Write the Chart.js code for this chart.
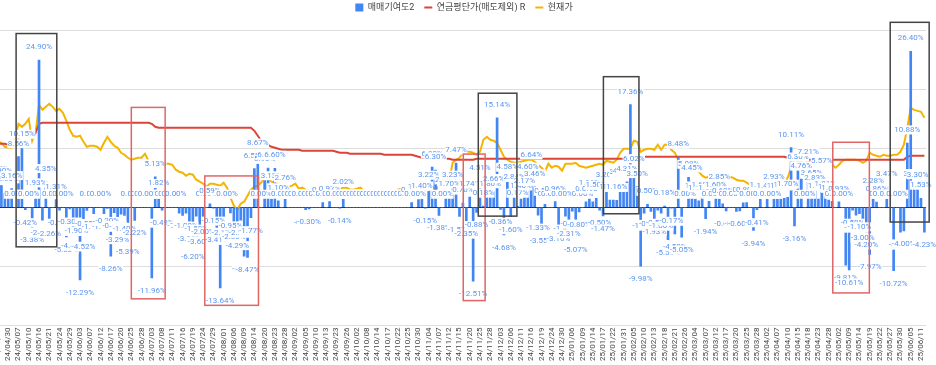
<!DOCTYPE html>
<html>
<head>
<meta charset="utf-8">
<script src="https://cdn.jsdelivr.net/npm/chart.js@4.4.1/dist/chart.umd.min.js"></script>
<style>
  html, body { margin: 0; padding: 0; background: #fff; overflow: hidden; }
  body { width: 936px; height: 365px; position: relative; }
  #wrap { position: absolute; left: -4px; top: 0; width: 940px; height: 363px; }
</style>
</head>
<body>
<div id="wrap"><canvas id="chart"></canvas></div>
<script>
// x tick labels, one every 3 trading days
const tickLabels = [
  "24/04/25","24/04/30","24/05/07","24/05/10","24/05/16","24/05/21","24/05/24","24/05/29","24/06/03","24/06/07",
  "24/06/12","24/06/17","24/06/20","24/06/25","24/06/28","24/07/03","24/07/08","24/07/11","24/07/16","24/07/19",
  "24/07/24","24/07/29","24/08/01","24/08/06","24/08/09","24/08/14","24/08/20","24/08/23","24/08/28","24/09/02",
  "24/09/05","24/09/10","24/09/13","24/09/23","24/09/26","24/10/02","24/10/08","24/10/14","24/10/17","24/10/22",
  "24/10/25","24/10/30","24/11/04","24/11/07","24/11/12","24/11/15","24/11/20","24/11/25","24/11/28","24/12/03",
  "24/12/06","24/12/11","24/12/16","24/12/19","24/12/24","24/12/30","25/01/06","25/01/09","25/01/14","25/01/17",
  "25/01/22","25/01/31","25/02/05","25/02/10","25/02/13","25/02/18","25/02/21","25/02/26","25/03/04","25/03/07",
  "25/03/12","25/03/17","25/03/20","25/03/25","25/03/28","25/04/02","25/04/07","25/04/10","25/04/15","25/04/18",
  "25/04/23","25/04/28","25/05/02","25/05/09","25/05/14","25/05/19","25/05/22","25/05/27","25/05/30","25/06/05",
  "25/06/11"
];

// 매매기여도2 (%), one value per trading day
const contribution = [
  4.34, 3.9, 2.3, 2.6, 3.16, 0, 8.56, 10.15, -0.42, 0, -3.38, 1.93, 24.9, -2.2, 4.35, -2.26, 0, 1.31,
  -0.5, 0, -5.02, -0.3, -4.4, -1.9, -12.29, -4.52, -0.55, 0, -1.1, 0, 0, -1.1, -0.2, -8.26, -0.9, -3.29,
  -1.19, -1.4, -5.39, 0, -2.22, 0, 0, 0, 0, -11.96, 5.13, 1.82, -0.49, 0, 0, 0, 0, -1.0,
  -1.38, -1.0, -3.1, -6.2, -1.5, -3.6, -2.0, 0, 0.59, -0.15, -3.41, -13.64, -2.17, 0, -0.95, -2.8, -4.29, -2.2,
  -8.3, -8.47, -1.77, 6.55, 8.67, 0, 5.9, 6.63, 3.13, 6.6, 1.1, 0, 2.76, 0, 0, 0, 0, 0,
  -0.39, -0.3, 0, 0, 0, 0.8, 0, 0.97, 0, 0, -0.14, 2.02, 0, 0, 0, 0, 0, 0,
  0, 0, 0, 0, 0, 0, 0, 0, 0, 0, 0, 0, 0, 0.79, 0, 1.3, 1.4, -0.15,
  3.22, 6.8, 6.3, -1.38, 0, 2.44, 1.7, 3.23, 7.47, -1.57, 0.7, -2.35, 1.74, -12.51, -0.88, 4.51, 0.18, 1.8,
  1.8, 2.66, 15.14, -0.36, -4.68, 4.58, -1.6, 2.84, 0.17, 1.4, 2.17, 4.6, 6.64, 3.46, -1.33, -3.55, 0.5, 0,
  0, 0.96, -3.16, 0, -1.49, -2.31, -0.65, -5.07, -0.8, 0, 0.9, 1.96, 0.9, 1.5, -0.5, -1.47, 3.2, 1.2,
  1.2, 1.16, 3.7, 4.0, 4.31, 17.36, 6.02, 3.5, -9.98, -1.0, 0.5, -0.7, -1.93, -0.5, -1.0, 0.18, -5.5, -0.17,
  -4.5, 8.48, -5.05, 0, 5.08, 4.45, 1.4, 1.1, 1.6, -1.94, 1.0, 0, 1.6, 2.85, 0.6, -0.6, 0, 0,
  -0.7, -0.6, 0.74, 0.8, 0, -3.94, -0.41, 1.5, 0, 1.4, 0, 2.93, 1.4, 1.4, 1.49, 1.7, 10.11, -3.16,
  6.3, 4.76, 0, 7.21, 3.65, 2.83, 1.4, 5.57, 1.81, 1.2, 1.0, 0, 0.93, 0, -9.81, -10.61, -0.5, -1.34,
  -1.1, -3.0, -4.2, -7.97, 2.28, 0.86, 0, 0, 3.47, 0, -10.72, 0, -4.22, -4.0, 10.88, 26.4, 3.51, 3.3,
  1.53, -4.23
];

// 연금평단가(매도제외) - right axis
const avgCost = [
  182, 182, 182, 181, 182, 182, 187, 192, 192, 192, 192, 193, 202, 203, 203, 203, 203, 203,
  203, 203, 203, 203, 203, 203, 203, 203, 203, 203, 203, 203, 203, 203, 203, 203, 203, 203,
  203, 203, 203, 203, 203, 203, 203, 203, 203, 202, 199, 198, 198, 198, 198, 198, 198, 198,
  198, 198, 198, 198, 198, 198, 198, 198, 198, 198, 198, 198, 198, 198, 198, 198, 198, 198,
  198, 198, 198, 195, 190, 185, 183, 181, 179, 178, 177, 176, 176, 176, 176, 176, 176, 175,
  175, 175, 175, 175, 175, 175, 175, 175, 175, 174, 173, 173, 173, 172, 172, 172, 172, 172,
  172, 172, 172, 172, 172, 171, 171, 171, 171, 171, 171, 171, 171, 171, 170, 169, 168, 168,
  168, 168, 168, 168, 167, 167, 167, 166, 166, 166, 166, 166, 166, 166, 167, 167, 167, 167,
  167, 167, 167, 167, 167, 167, 167, 167, 167, 167, 167, 167, 167, 167, 167, 167, 167, 167,
  167, 167, 167, 167, 167, 167, 167, 167, 167, 167, 167, 167, 167, 167, 167, 167, 167, 167,
  167, 167, 167, 167, 167, 167, 169, 169, 169, 169, 169, 169, 169, 169, 169, 169, 169, 169,
  169, 169, 169, 169, 169, 169, 169, 169, 169, 169, 169, 169, 169, 169, 169, 169, 169, 169,
  169, 169, 169, 169, 169, 169, 169, 169, 169, 169, 169, 169, 169, 169, 169, 168, 166, 166,
  166, 166, 166, 166, 166, 166, 166, 166, 166, 166, 166, 166, 166, 166, 166, 166, 166, 166,
  166, 166, 166, 166, 166, 166, 166, 166, 166, 166, 166, 166, 166, 166, 169, 170, 170, 170,
  170, 170
];

// 현재가 - right axis
const price = [
  184, 183, 179, 178, 178, 188, 202, 199, 202, 207, 185, 193, 221, 216, 219, 222, 219, 215,
  217, 213, 205, 196, 190, 189, 190, 184, 179, 180, 180, 179, 176, 183, 189, 184, 180, 178,
  173, 171, 168, 166, 167, 168, 168, 172, 165, 163, 162, 161, 160, 162, 162, 161, 156, 154,
  153, 150, 152, 151, 146, 144, 142, 139, 142, 142, 141, 140, 143, 138, 128, 120, 116, 122,
  124, 130, 136, 139, 140, 143, 149, 147, 144, 143, 141, 139, 138, 139, 140, 142, 137, 138,
  136, 135, 134, 135, 136, 135, 134, 135, 136, 137, 137, 138, 138, 136, 136, 137, 138, 135,
  134, 134, 133, 134, 134, 133, 134, 135, 134, 136, 137, 138, 139, 140, 141, 142, 143, 141,
  142, 140, 135, 140, 142, 141, 146, 163, 166, 168, 173, 174, 174, 173, 171, 174, 186, 189,
  186, 185, 183, 176, 169, 166, 164, 163, 163, 164, 165, 166, 166, 164, 161, 158, 154, 162,
  158, 160, 159, 155, 162, 162, 162, 163, 160, 159, 158, 159, 160, 161, 162, 161, 165, 164,
  163, 166, 173, 177, 177, 177, 185, 184, 174, 176, 177, 177, 176, 181, 176, 181, 181, 176,
  173, 166, 163, 161, 160, 159, 155, 154, 150, 148, 149, 149, 146, 147, 148, 148, 149, 148,
  146, 145, 145, 143, 141, 137, 136, 137, 136, 135, 134, 136, 138, 140, 141, 148, 158, 168,
  163, 165, 166, 164, 163, 164, 165, 165, 165, 163, 161, 158, 161, 165, 166, 166, 166, 166,
  165, 163, 165, 173, 171, 170, 169, 171, 170, 170, 171, 171, 174, 181, 198, 218, 216, 215,
  214, 208
];

// highlight boxes drawn over the chart: day index range and % range
const boxFrom = [5.3, 39.0, 60.5, 136.1, 140.5, 177.1, 244.2, 261.0];
const boxTo   = [17.2, 48.9, 76.2, 142.5, 151.8, 187.5, 254.9, 272.4];
const boxHigh = [29.4, 16.9, 5.3, 9.0, 19.3, 22.1, 11.0, 31.3];
const boxLow  = [-6.7, -15.5, -16.6, -15.8, -1.5, -1.1, -14.5, -2.5];
const boxKind = ["buy", "sell", "sell", "sell", "buy", "buy", "sell", "buy"];

const categories = tickLabels.flatMap(d => [d, "", ""]).slice(0, contribution.length);

Chart.defaults.font.family = 'Roboto, "Noto Sans CJK KR", sans-serif';

// value labels, each on a white chip that covers the one before it
const barLabels = {
  id: "barLabels",
  afterDatasetsDraw(chart) {
    const ctx = chart.ctx;
    const meta = chart.getDatasetMeta(0);
    ctx.save();
    ctx.font = '8px Roboto, sans-serif';
    ctx.textAlign = "center";
    ctx.textBaseline = "middle";
    meta.data.forEach((bar, i) => {
      const v = contribution[i];
      const text = v.toFixed(2) + "%";
      const ty = v < 0 ? bar.y + 13 : bar.y - 13;
      const w = ctx.measureText(text).width;
      ctx.fillStyle = "#ffffff";
      ctx.fillRect(bar.x - w / 2 - 0.5, ty - 4.5, w + 1, 9);
      ctx.fillStyle = "#5b95f0";
      ctx.fillText(text, bar.x, ty);
    });
    ctx.restore();
  }
};

const boxes = {
  id: "boxes",
  afterDraw(chart) {
    const { ctx, scales: { x, y } } = chart;
    ctx.save();
    ctx.lineWidth = 1.5;
    boxFrom.forEach((from, k) => {
      const left = x.getPixelForValue(from);
      const right = x.getPixelForValue(boxTo[k]);
      const top = y.getPixelForValue(boxHigh[k]);
      const bottom = y.getPixelForValue(boxLow[k]);
      ctx.strokeStyle = boxKind[k] === "sell" ? "#e06666" : "#444444";
      ctx.strokeRect(left, top, right - left, bottom - top);
    });
    ctx.restore();
  }
};

// give the legend a fixed band above the plot
const legendSpace = {
  id: "legendSpace",
  beforeInit(chart) {
    const fit = chart.legend.fit;
    chart.legend.fit = function () {
      fit.call(this);
      this.height = 37;
    };
  }
};

new Chart(document.getElementById("chart"), {
  type: "bar",
  data: {
    labels: categories,
    datasets: [
      {
        label: "매매기여도2",
        data: contribution,
        backgroundColor: "#4285f4",
        borderWidth: 0,
        barThickness: 2,
        pointStyle: "rect",
        yAxisID: "y",
      },
      {
        type: "line",
        label: "연금평단가(매도제외) R",
        data: avgCost,
        borderColor: "#db4437",
        backgroundColor: "#db4437",
        borderWidth: 2,
        pointRadius: 0,
        tension: 0,
        pointStyle: "line",
        yAxisID: "y1",
      },
      {
        type: "line",
        label: "현재가",
        data: price,
        borderColor: "#f4b400",
        backgroundColor: "#f4b400",
        borderWidth: 2,
        pointRadius: 0,
        tension: 0,
        pointStyle: "line",
        yAxisID: "y1",
      },
    ],
  },
  options: {
    responsive: true,
    maintainAspectRatio: false,
    animation: false,
    devicePixelRatio: 1,
    layout: { padding: { top: -7, right: 4, left: 0, bottom: 0 } },
    plugins: {
      legend: {
        position: "top",
        labels: {
          usePointStyle: true,
          pointStyleWidth: 8,
          boxHeight: 8,
          padding: 10,
          color: "#444",
          font: { size: 9 },
        },
      },
      tooltip: { enabled: false },
    },
    scales: {
      x: {
        grid: { display: false, drawTicks: false },
        border: { display: false },
        ticks: {
          autoSkip: false,
          minRotation: 90,
          maxRotation: 90,
          padding: 2,
          color: "#444",
          font: { size: 8 },
        },
      },
      y: {
        position: "left",
        min: -20,
        max: 30,
        ticks: { display: false, stepSize: 10 },
        border: { display: false },
        grid: {
          drawTicks: false,
          color: (c) => (c.tick && c.tick.value === 0 ? "#333333" : "#dddddd"),
        },
      },
      y1: {
        position: "right",
        display: false,
        min: 0,
        max: 296,
      },
    },
  },
  plugins: [barLabels, boxes, legendSpace],
});
</script>
</body>
</html>
